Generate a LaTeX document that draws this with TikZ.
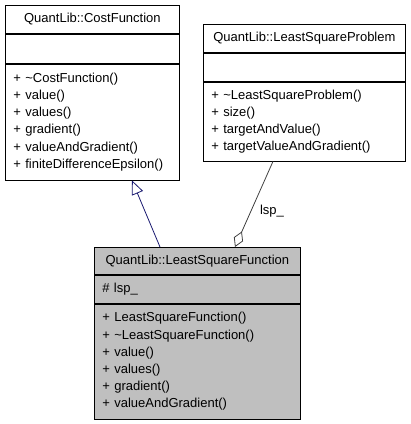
\documentclass[tikz,border=0pt]{standalone}
\usepackage{fontspec}
\setmainfont{Liberation Sans}
\usetikzlibrary{arrows.meta, positioning, calc}

\definecolor{lsfgray}{RGB}{191,191,191}
\definecolor{edgeblue}{RGB}{25,25,112}
\definecolor{edgegray}{RGB}{64,64,64}

\tikzset{
    umlpart/.style={draw=black, line width=0.8pt, rectangle, inner sep=0pt, anchor=north west,
        font=\fontsize{13}{17.2}\selectfont},
    umltitle/.style={umlpart, align=center},
    umllist/.style={umlpart, align=left, inner xsep=8pt},
    inheritline/.style={draw=edgeblue, line width=0.8pt, -{Triangle[open, length=14pt, width=12pt]}},
    aggrline/.style={draw=edgegray, line width=0.8pt, -{Diamond[open, length=17pt, width=10pt]}},
}

\begin{document}
\begin{tikzpicture}[x=1pt, y=-1pt]
\useasboundingbox (0,0) rectangle (411,424);

% Base class
\node[umltitle, minimum width=174pt, minimum height=28pt] (cf) at (5,5) {QuantLib::CostFunction};
\node[umltitle, minimum width=174pt, minimum height=29pt, below=0pt of cf] (cfattr) {};
\node[umllist, text width=158pt, minimum height=116pt, below=0pt of cfattr] (cfops)
    {+ \textasciitilde CostFunction()\\+ value()\\+ values()\\+ gradient()\\+ valueAndGradient()\\+ finiteDifferenceEpsilon()};

% Problem class
\node[umltitle, minimum width=202pt, minimum height=28pt] (lsp) at (203,24) {QuantLib::LeastSquareProblem};
\node[umltitle, minimum width=202pt, minimum height=28pt, below=0pt of lsp] (lspattr) {};
\node[umllist, text width=186pt, minimum height=79pt, below=0pt of lspattr] (lspops)
    {+ \textasciitilde LeastSquareProblem()\\+ size()\\+ targetAndValue()\\+ targetValueAndGradient()};

% Derived class
\node[umltitle, fill=lsfgray, minimum width=206pt, minimum height=27pt] (lsf) at (94,247) {QuantLib::LeastSquareFunction};
\node[umllist, fill=lsfgray, text width=190pt, minimum height=28pt, below=0pt of lsf] (lsfattr) {\# lsp\_};
\node[umllist, fill=lsfgray, text width=190pt, minimum height=115pt, below=0pt of lsfattr] (lsfops)
    {+ LeastSquareFunction()\\+ \textasciitilde LeastSquareFunction()\\+ value()\\+ values()\\+ gradient()\\+ valueAndGradient()};

% Relations
\draw[inheritline] ([xshift=66pt]lsf.north west) -- ([xshift=127pt]cfops.south west);
\draw[aggrline] ([xshift=70pt]lspops.south west) -- ([xshift=141pt]lsf.north west);
\node[font=\fontsize{13}{15}\selectfont] (lsplbl) at (272,211) {lsp\_};
\end{tikzpicture}
\end{document}
